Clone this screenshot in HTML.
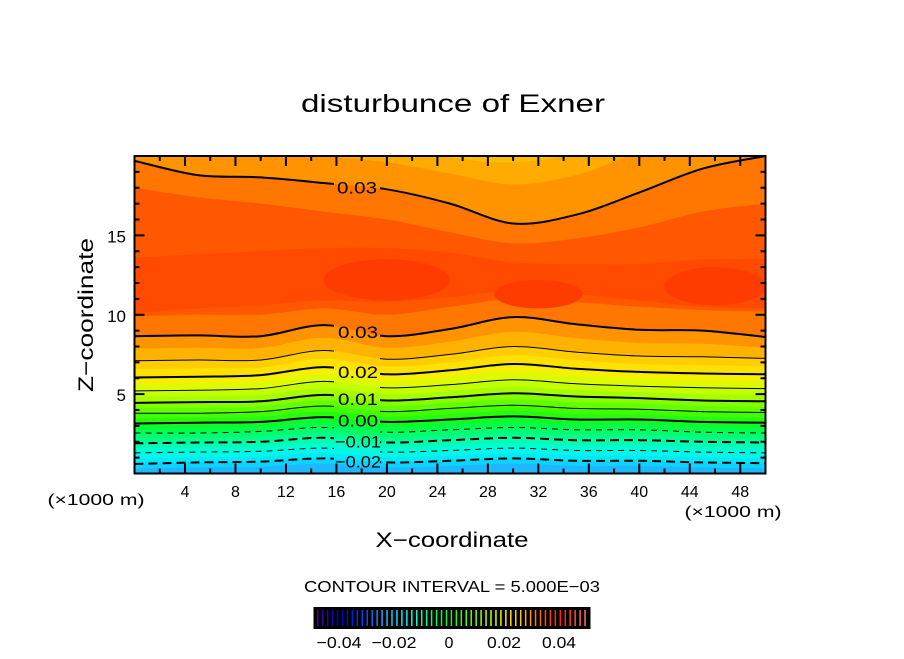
<!DOCTYPE html>
<html><head><meta charset="utf-8"><style>
body{margin:0;background:#fff}
svg text{font-family:"Liberation Sans",sans-serif;fill:#000}
</style></head><body>
<svg id="chart" width="904" height="654" viewBox="0 0 904 654">
<defs>
<clipPath id="plotclip"><rect x="134.5" y="156" width="631" height="317.5"/></clipPath>
<mask id="labelmask"><rect x="0" y="0" width="904" height="654" fill="#fff"/><rect x="334" y="150" width="46" height="330" fill="#000"/></mask>
</defs>
<text x="453" y="112" font-size="25" textLength="304" lengthAdjust="spacingAndGlyphs" text-anchor="middle">disturbunce of Exner</text>
<g id="fills" clip-path="url(#plotclip)"></g>
<g id="lines" clip-path="url(#plotclip)" mask="url(#labelmask)"></g>
<g id="labels"></g>
<g id="axes"></g>
<text x="0" y="0" font-size="21" textLength="154" lengthAdjust="spacingAndGlyphs" text-anchor="middle" transform="translate(93,315) rotate(-90)">Z−coordinate</text>
<text x="452" y="547" font-size="21" textLength="153" lengthAdjust="spacingAndGlyphs" text-anchor="middle">X−coordinate</text>
<text x="96" y="505" font-size="16" textLength="97" lengthAdjust="spacingAndGlyphs" text-anchor="middle">(×1000 m)</text>
<text x="733" y="517" font-size="16" textLength="97" lengthAdjust="spacingAndGlyphs" text-anchor="middle">(×1000 m)</text>
<text x="452" y="592" font-size="16" textLength="296" lengthAdjust="spacingAndGlyphs" text-anchor="middle">CONTOUR INTERVAL = 5.000E−03</text>
<g id="cbar"></g>
</svg>
<script>
const xs=[0,5,10,15,20,25,30,35,40,45,50];
const levels=[0.03,0.025,0.02,0.015,0.01,0.005,0.0,-0.005,-0.01,-0.015,-0.02];
const lineZ=[
[8.65,8.7,8.65,9.35,8.65,9.1,9.85,9.4,9.05,9.0,8.6],
[7.1,7.15,7.15,7.75,7.2,7.5,8.0,7.65,7.4,7.35,7.25],
[6.05,6.1,6.2,6.7,6.25,6.5,6.9,6.6,6.4,6.3,6.25],
[5.2,5.25,5.35,5.8,5.4,5.6,5.9,5.65,5.5,5.4,5.35],
[4.45,4.5,4.55,4.95,4.6,4.8,5.05,4.85,4.75,4.6,4.55],
[3.8,3.8,3.9,4.25,3.9,4.1,4.3,4.1,4.05,3.9,3.85],
[3.15,3.2,3.25,3.55,3.25,3.4,3.6,3.4,3.4,3.25,3.2],
[2.55,2.55,2.65,2.9,2.6,2.75,2.9,2.75,2.75,2.6,2.55],
[1.9,1.95,2.0,2.25,1.95,2.1,2.25,2.1,2.1,2.0,1.95],
[1.3,1.35,1.4,1.6,1.35,1.45,1.6,1.45,1.45,1.35,1.3],
[0.6,0.7,0.75,0.95,0.7,0.8,0.95,0.8,0.8,0.7,0.65]];
const upper030=[19.7,18.8,18.65,18.3,17.9,17.0,15.75,16.3,17.7,19.2,20];
const upper0275=[21,20.6,20.3,20.0,19.6,18.9,18.2,18.8,20.2,21,21];
const upper025=[22,22,22,21.5,20.6,19.9,19.6,20.2,21.6,22,22];
const upper0325=[18.0,17.4,17.0,16.5,16.0,15.2,14.5,14.8,15.5,16.5,17];
const lower0325=[9.9,10.0,10.0,10.4,10.0,10.5,11.0,10.8,10.5,10.3,10.2];
const upper034=[13.6,13.8,14,14.2,14.2,13.9,13.3,13.2,13.2,13.5,13.5];
const lower034=[10.1,10.4,10.6,10.9,10.8,11.1,11.5,11.3,10.9,10.5,10.4];
const blobs=[[20,12.2,5,1.3],[32,11.3,3.5,0.9],[46,11.8,4,1.2]];
const lineLevelLabels=["0.03","0.02","0.01","0.00","−0.01","−0.02"];
const lineLabelIdx=[0,2,4,6,8,10];
const cbTicks=[-0.04,-0.02,0,0.02,0.04];
const cbTickLabels=["−0.04","−0.02","0","0.02","0.04"];
const xTicks=[4,8,12,16,20,24,28,32,36,40,44,48];
const yTicks=[5,10,15];

const X=v=>134.5+v*12.62, Z=v=>473.5-v*15.875;
const stops=[[-0.05,[80,0,160]],[-0.04,[0,0,200]],[-0.03,[0,90,255]],[-0.025,[40,170,255]],[-0.02,[0,225,255]],[-0.015,[0,255,225]],[-0.01,[0,255,160]],[-0.005,[0,255,90]],[0,[20,250,20]],[0.005,[80,255,0]],[0.01,[150,255,0]],[0.015,[210,255,0]],[0.02,[255,235,0]],[0.025,[255,195,0]],[0.0275,[255,165,0]],[0.03,[255,130,0]],[0.0325,[255,100,0]],[0.035,[255,70,0]],[0.04,[255,30,0]],[0.05,[255,130,130]]];
function cmap(v){for(let i=0;i<stops.length-1;i++){const a=stops[i],b=stops[i+1];if(v<=b[0]){const t=Math.max(0,(v-a[0])/(b[0]-a[0]));return 'rgb('+a[1].map((c,k)=>Math.round(c+(b[1][k]-c)*t)).join(',')+')';}}return 'rgb(255,130,130)';}
const NS='http://www.w3.org/2000/svg';
function mk(tag,attrs,parent){const e=document.createElementNS(NS,tag);for(const k in attrs)e.setAttribute(k,attrs[k]);parent.appendChild(e);return e;}
function pts(zs){return xs.map((x,i)=>[X(x),Z(zs[i])]);}
function smooth(p,start){let d=(start?'M':'L')+p[0][0].toFixed(1)+','+p[0][1].toFixed(1);
 for(let i=0;i<p.length-1;i++){const p0=p[Math.max(0,i-1)],p1=p[i],p2=p[i+1],p3=p[Math.min(p.length-1,i+2)];
  const c1=[p1[0]+(p2[0]-p0[0])/6,p1[1]+(p2[1]-p0[1])/6],c2=[p2[0]-(p3[0]-p1[0])/6,p2[1]-(p3[1]-p1[1])/6];
  d+=' C'+c1.map(v=>v.toFixed(1))+' '+c2.map(v=>v.toFixed(1))+' '+p2.map(v=>v.toFixed(1));}
 return d;}
function below(zs){return smooth(pts(zs),true)+' L'+X(51)+','+Z(zs[10])+' L'+X(51)+','+Z(-1)+' L'+X(-1)+','+Z(-1)+' L'+X(-1)+','+Z(zs[0])+'Z';}
function band(up,lo){return smooth(pts(up),true)+' '+smooth(pts(lo).reverse(),false)+'Z';}
const F=document.getElementById('fills');
let r=mk('rect',{x:0,y:0,width:904,height:654,fill:cmap(0.0255)},F);


[[upper025,0.027],[upper0275,0.0288],[upper030,0.031]].forEach(([zs,v])=>{const p=mk('path',{d:below(zs),fill:cmap(v)},F);

});
let p1=mk('path',{d:band(upper0325,lower0325),fill:cmap(0.0335)},F);


let p2=mk('path',{d:band(upper034,lower034),fill:cmap(0.0347)},F);


blobs.forEach(b=>{const e=mk('ellipse',{cx:X(b[0]),cy:Z(b[1]),rx:b[2]*12.62,ry:b[3]*15.875,fill:cmap(0.0362)},F);

});
levels.forEach((lv,i)=>{
 const zs=lineZ[i];
 const nxt=i<levels.length-1?lineZ[i+1]:zs.map(z=>Math.max(0,z-0.65));
 const mid=zs.map((z,k)=>(z+nxt[k])/2);
 const a=mk('path',{d:below(zs),fill:cmap(lv-0.0012)},F);
 
 
 const b=mk('path',{d:below(mid),fill:cmap(lv-0.0037)},F);
 
 
});
const L=document.getElementById('lines');
function drawLine(zs,lv){
 const major=Math.abs(Math.round(lv*1000)%10)===0;
 const attrs={d:smooth(pts(zs),true),fill:'none',stroke:'#000','stroke-width':major?2:1};
 if(lv<0)attrs['stroke-dasharray']=major?'9,5':'6,5';
 const pl=mk('path',attrs,L);
 
 
}
levels.forEach((lv,i)=>drawLine(lineZ[i],lv));
drawLine(upper030,0.03);
const LB=document.getElementById('labels');
function interpZ(zs,x){const i=Math.min(9,Math.floor(x/5));const t=(x-xs[i])/5;return zs[i]+(zs[i+1]-zs[i])*t;}
lineLabelIdx.forEach((li,k)=>{const lab=lineLevelLabels[k];const t=mk('text',{x:358,y:Z(interpZ(lineZ[li],17.7))+7,'font-size':17,'text-anchor':'middle',textLength:lab.length>4?46:40,lengthAdjust:'spacingAndGlyphs'},LB);t.textContent=lab;

});
let tu=mk('text',{x:357,y:Z(interpZ(upper030,17.7))+7,'font-size':17,'text-anchor':'middle',textLength:40,lengthAdjust:'spacingAndGlyphs'},LB);tu.textContent='0.03';


const A=document.getElementById('axes');
let fr=mk('rect',{x:X(0),y:Z(20),width:X(50)-X(0),height:Z(0)-Z(20),fill:'none',stroke:'#000','stroke-width':2},A);


for(let v=2;v<50;v+=2){const len=v%4===0?10:5;
 mk('line',{x1:X(v),x2:X(v),y1:Z(0),y2:Z(0)-len,stroke:'#000','stroke-width':2},A);
 mk('line',{x1:X(v),x2:X(v),y1:Z(20),y2:Z(20)+len,stroke:'#000','stroke-width':2},A);}
for(let v=1;v<20;v++){const len=v%5===0?10:5;
 mk('line',{x1:X(0),x2:X(0)+len,y1:Z(v),y2:Z(v),stroke:'#000','stroke-width':2},A);
 mk('line',{x1:X(50),x2:X(50)-len,y1:Z(v),y2:Z(v),stroke:'#000','stroke-width':2},A);}
xTicks.forEach(v=>{const t=mk('text',{x:X(v),y:497,'font-size':16,'text-anchor':'middle'},A);t.textContent=v;

});
yTicks.forEach(v=>{const t=mk('text',{x:126,y:Z(v)+7,'font-size':17,'text-anchor':'end'},A);t.textContent=v;

});
const C=document.getElementById('cbar');
const CB=v=>450+v*2750;
let cb=mk('rect',{x:CB(-0.05)+2,y:608,width:CB(0.05)-CB(-0.05),height:20,fill:'#000',stroke:'#000','stroke-width':2},C);


for(let v=-0.049;v<0.05;v+=0.0018){mk('line',{x1:CB(v)+2.5,x2:CB(v)+2.5,y1:610,y2:626,stroke:cmap(v),'stroke-width':1.5},C);}
cbTicks.forEach((v,i)=>{const lab=cbTickLabels[i];const t=mk('text',{x:CB(v)-1,y:648,'font-size':16,'text-anchor':'middle'},C);t.textContent=lab;
if(lab.length>1)t.setAttribute('textLength',lab.length>4?45:34);
t.setAttribute('lengthAdjust','spacingAndGlyphs');

});
</script>
</body></html>
